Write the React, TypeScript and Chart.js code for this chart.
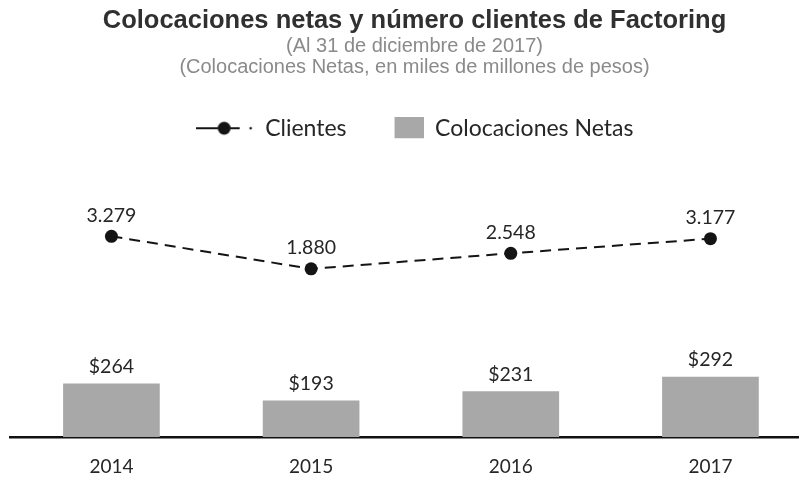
import React, { useEffect, useRef } from "react";
import { Chart, registerables } from "chart.js";

Chart.register(...registerables);

const years = ["2014", "2015", "2016", "2017"];
const colocaciones = [264, 193, 231, 292];
const clientes = [3279, 1880, 2548, 3177];
const titleText = "Colocaciones netas y número clientes de Factoring";
const subtitleLines = [
  "(Al 31 de diciembre de 2017)",
  "(Colocaciones Netas, en miles de millones de pesos)",
];
const legendLabels = ["Clientes", "Colocaciones Netas"];

const BAR_COLOR = "#a8a8a8";
const LINE_COLOR = "#141414";
const TEXT_COLOR = "#262626";

const fmtThousands = (v: number) =>
  String(v).replace(/\B(?=(\d{3})+(?!\d))/g, ".");

function makeLineLegendIcon(): HTMLCanvasElement {
  const c = document.createElement("canvas");
  c.width = 58;
  c.height = 22;
  const g = c.getContext("2d")!;
  g.strokeStyle = LINE_COLOR;
  g.fillStyle = LINE_COLOR;
  g.lineWidth = 2;
  g.beginPath();
  g.moveTo(0, 11);
  g.lineTo(22, 11);
  g.stroke();
  g.beginPath();
  g.arc(28.5, 11, 6.5, 0, Math.PI * 2);
  g.fill();
  g.beginPath();
  g.moveTo(35, 11);
  g.lineTo(44, 11);
  g.stroke();
  g.beginPath();
  g.arc(55, 11, 1.3, 0, Math.PI * 2);
  g.fill();
  return c;
}

function makeBarLegendIcon(): HTMLCanvasElement {
  const c = document.createElement("canvas");
  c.width = 58;
  c.height = 22;
  const g = c.getContext("2d")!;
  g.fillStyle = BAR_COLOR;
  g.fillRect(29, 0, 29, 21);
  return c;
}

const valueLabelPlugin = {
  id: "valueLabels",
  afterDatasetsDraw(chart: any) {
    const ctx = chart.ctx;
    ctx.save();
    ctx.fillStyle = TEXT_COLOR;
    ctx.textAlign = "center";
    ctx.textBaseline = "middle";
    ctx.font = "19.5px Lato";
    chart.data.datasets.forEach((ds: any, di: number) => {
      const meta = chart.getDatasetMeta(di);
      meta.data.forEach((el: any, i: number) => {
        const { x, y } = el.getProps(["x", "y"], true);
        if (ds.type === "line") {
          ctx.fillText(fmtThousands(clientes[i]), x, y - 21);
        } else {
          ctx.fillText("$" + colocaciones[i], x, y - 17);
        }
      });
    });
    ctx.restore();
  },
};

export default function App() {
  const ref = useRef<HTMLCanvasElement | null>(null);

  useEffect(() => {
    if (!ref.current) return;
    const lineIcon = makeLineLegendIcon();
    const barIcon = makeBarLegendIcon();

    const chart = new Chart(ref.current, {
      type: "bar",
      data: {
        datasets: [
          {
            type: "line",
            label: legendLabels[0],
            data: clientes.map((v, i) => ({ x: i, y: v })),
            xAxisID: "x",
            yAxisID: "y2",
            borderColor: LINE_COLOR,
            borderWidth: 2,
            borderDash: [11, 7],
            pointRadius: 6.5,
            pointBackgroundColor: LINE_COLOR,
            pointBorderColor: LINE_COLOR,
            pointBorderWidth: 0,
            fill: false,
            tension: 0,
            order: 0,
          } as any,
          {
            type: "bar",
            label: legendLabels[1],
            data: colocaciones.map((v, i) => ({ x: i, y: v })),
            xAxisID: "x",
            yAxisID: "y1",
            backgroundColor: BAR_COLOR,
            borderWidth: 0,
            barThickness: 96,
            order: 1,
          } as any,
        ],
      },
      options: {
        animation: false,
        responsive: false,
        events: [],
        layout: { padding: { left: 10, right: -9, top: 0, bottom: -18.8 } },
        scales: {
          x: {
            type: "linear",
            offset: false,
            min: -0.508,
            max: 3.466,
            afterBuildTicks: (axis: any) => {
              axis.ticks = years.map((_, i) => ({ value: i }));
            },
            ticks: {
              callback: (v: any) => years[v] ?? "",
              font: { family: "Lato", size: 19 },
              color: TEXT_COLOR,
              padding: 18,
              autoSkip: false,
              maxRotation: 0,
            },
            grid: { display: false, drawTicks: false },
            border: { display: true, color: "#111111", width: 2.5 },
          },
          y1: {
            type: "linear",
            display: false,
            min: 43.3,
            max: 1233.5,
          },
          y2: {
            type: "linear",
            display: false,
            min: -5345,
            max: 7000,
          },
        } as any,
        plugins: {
          title: {
            display: true,
            text: titleText,
            color: "#303030",
            font: { family: "Liberation Sans", size: 25.5, weight: "bold", lineHeight: 1.0 },
            padding: { top: 8.5, bottom: 0 },
          },
          subtitle: {
            display: true,
            text: subtitleLines,
            color: "#8a8a8a",
            font: { family: "Liberation Sans", size: 20, lineHeight: 1.03 },
            padding: { top: 2.5, bottom: 20 },
          },
          legend: {
            display: true,
            labels: {
              usePointStyle: true,
              pointStyleWidth: 58,
              padding: 19,
              color: TEXT_COLOR,
              font: { family: "Lato", size: 23 },
              generateLabels: () => [
                {
                  text: legendLabels[0],
                  pointStyle: lineIcon,
                  fillStyle: LINE_COLOR,
                  strokeStyle: "transparent",
                  lineWidth: 0,
                  hidden: false,
                  datasetIndex: 0,
                  fontColor: TEXT_COLOR,
                },
                {
                  text: legendLabels[1],
                  pointStyle: barIcon,
                  fillStyle: BAR_COLOR,
                  strokeStyle: "transparent",
                  lineWidth: 0,
                  hidden: false,
                  datasetIndex: 1,
                  fontColor: TEXT_COLOR,
                },
              ],
            },
          },
          tooltip: { enabled: false },
        },
      } as any,
      plugins: [valueLabelPlugin],
    });
    return () => chart.destroy();
  }, []);

  return (
    <div
      style={{
        position: "fixed",
        left: 0,
        top: 0,
        width: 799,
        height: 477,
        overflow: "hidden",
        background: "#ffffff",
      }}
    >
      <canvas ref={ref} width={810} height={477} style={{ display: "block" }} />
    </div>
  );
}
